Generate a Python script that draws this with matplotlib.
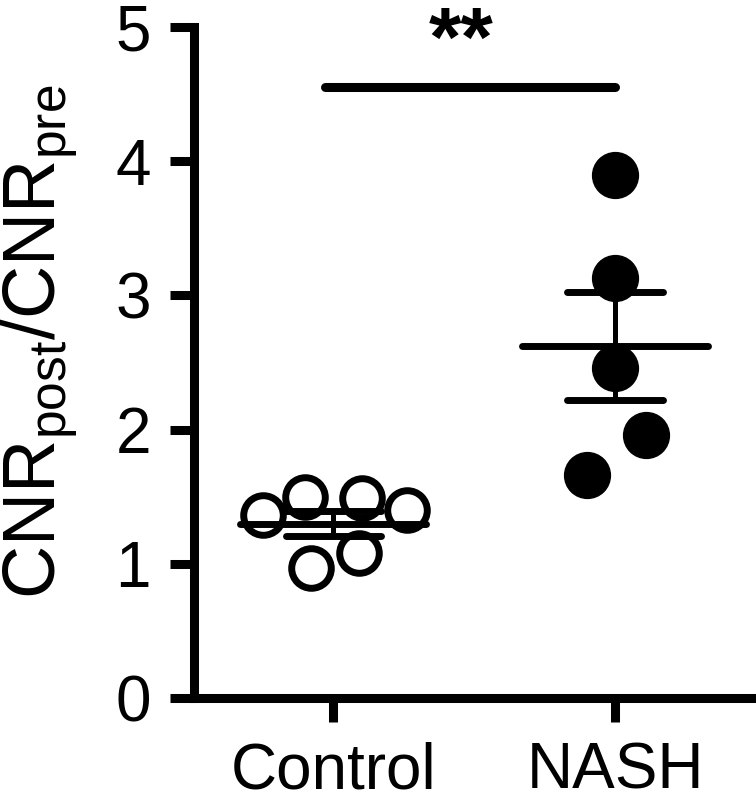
import numpy as np
import matplotlib
matplotlib.use("Agg")
import matplotlib.pyplot as plt

plt.rcParams['font.family'] = ['Liberation Sans', 'DejaVu Sans']
plt.rcParams['mathtext.fontset'] = 'custom'
plt.rcParams['mathtext.rm'] = 'Liberation Sans'
plt.rcParams['mathtext.it'] = 'Liberation Sans'

categories = ["Control", "NASH"]
control_vals = [1.36, 1.50, 1.49, 1.40, 0.97, 1.08]
control_x_offsets = [-0.25, -0.10, 0.10, 0.26, -0.08, 0.09]
nash_vals = [3.90, 3.13, 2.46, 1.96, 1.66]
nash_x_offsets = [0.0, 0.0, 0.0, 0.11, -0.10]
yticks = [0, 1, 2, 3, 4, 5]
sig_label = "**"
sig_y = 4.55

fig = plt.figure(figsize=(7.56, 8.05), dpi=100)
ax = fig.add_axes([194/756, 107/805, 562/756, 671/805])

pos = [1, 2]
ax.plot(np.array(control_x_offsets) + pos[0], control_vals, 'o', ms=28.5, mfc='white',
        mec='black', mew=5, zorder=3, clip_on=False)
ax.plot(np.array(nash_x_offsets) + pos[1], nash_vals, 'o', ms=33, mfc='black',
        mec='black', mew=1, zorder=3, clip_on=False)

for p, vals in zip(pos, [control_vals, nash_vals]):
    v = np.array(vals)
    m = v.mean()
    sem = v.std(ddof=1) / np.sqrt(len(v))
    ax.plot([p - 0.33, p + 0.33], [m, m], color='black', lw=5, solid_capstyle='round', zorder=4)
    ax.plot([p, p], [m - sem, m + sem], color='black', lw=3.6, zorder=4)
    for e in (m - sem, m + sem):
        ax.plot([p - 0.17, p + 0.17], [e, e], color='black', lw=5, solid_capstyle='round', zorder=4)

ax.plot([pos[0] - 0.03, pos[1]], [sig_y, sig_y], color='black', lw=6.5, solid_capstyle='round', clip_on=False)
ax.text(1.455, 4.71, sig_label, ha='center', va='baseline', fontsize=60, fontweight='bold')

ax.set_xlim(0.505, 2.5)
ax.set_ylim(0, 5)
ax.set_xticks(pos)
ax.set_xticklabels(categories)
ax.set_yticks(yticks)
for s in ['top', 'right']:
    ax.spines[s].set_visible(False)
for s in ['left', 'bottom']:
    ax.spines[s].set_linewidth(6.5)
ax.spines['left'].set_capstyle('projecting')
ax.tick_params(axis='both', width=6.5, length=17, labelsize=46, color='black')
ax.tick_params(axis='y', pad=14)
ax.tick_params(axis='x', pad=14)

fig.text(0.0, 1 - 342/805, r'CNR$_{\mathrm{post}}$/CNR$_{\mathrm{pre}}$', rotation=90,
         ha='left', va='center', fontsize=53)

fig.savefig('out.png', dpi=100)
